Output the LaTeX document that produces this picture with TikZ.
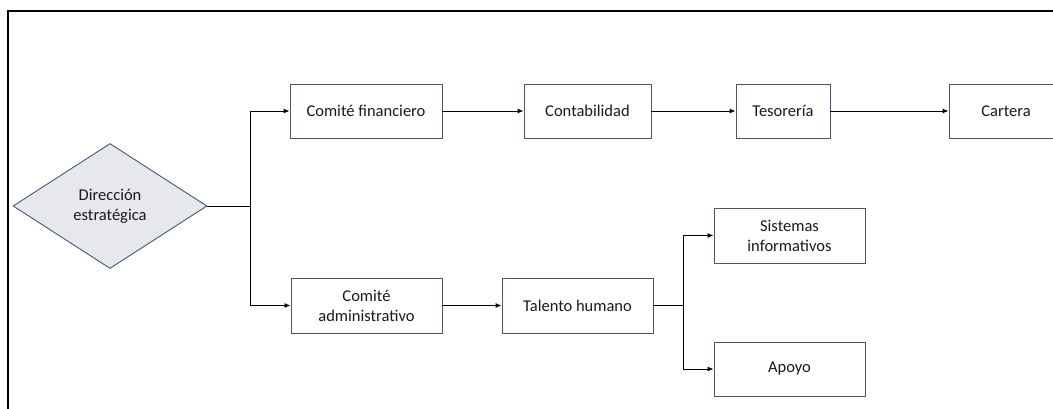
\documentclass[tikz,border=0pt]{standalone}
\usepackage{fontspec}
\setmainfont{Carlito}
\usetikzlibrary{shapes.geometric,arrows.meta}
\definecolor{boxline}{HTML}{4A5670}
\definecolor{diafill}{HTML}{E6E8EE}
\definecolor{txt}{HTML}{1A1A1A}
\begin{document}
\begin{tikzpicture}[x=1pt,y=-1pt,
  every node/.style={font=\fontsize{16.5}{20}\selectfont, text=txt, align=center},
  unit/.style={draw=boxline, line width=0.9pt, fill=white, rectangle, inner sep=0pt, minimum height=54pt},
  decision/.style={draw=boxline, line width=0.9pt, fill=diafill, diamond, aspect=1.55, inner sep=0pt,
    minimum width=194pt, minimum height=125pt},
  link/.style={draw=black, line width=1pt},
  arr/.style={link, -{Latex[length=6pt,width=5pt]}}]
  \useasboundingbox (0,0) rectangle (1053,408);
  \clip (0,0) rectangle (1053,408);
  % outer frame (open towards right and bottom)
  \draw[line width=2pt, black] (7.5,420) -- (7.5,10.5) -- (1070,10.5);

  % nodes
  \node[decision] (dir) at (110,206) {Dirección\\estratégica};
  \node[unit, minimum width=152pt] (cf)   at (366,111) {Comité financiero};
  \node[unit, minimum width=127pt] (cont) at (587.5,111) {Contabilidad};
  \node[unit, minimum width=94pt]  (tes)  at (783,111) {Tesorería};
  \node[unit, minimum width=114pt] (cart) at (1006,111) {Cartera};
  \node[unit, minimum width=151pt, minimum height=55pt] (ca) at (366.5,305.5) {Comité\\administrativo};
  \node[unit, minimum width=151pt, minimum height=55pt] (th) at (577.5,305.5) {Talento humano};
  \node[unit, minimum width=151pt, minimum height=55pt] (si) at (789.5,235.5) {Sistemas\\informativos};
  \node[unit, minimum width=151pt] (ap) at (789.5,369) {Apoyo};

  % branching points
  \coordinate (j1) at (250,206);
  \coordinate (j2) at (683,305.5);

  % connectors
  \draw[link] (dir.east) -- (j1);
  \draw[arr] (j1) |- (cf);
  \draw[arr] (j1) |- (ca);
  \draw[arr] (cf) -- (cont);
  \draw[arr] (cont) -- (tes);
  \draw[arr] (tes) -- (cart);
  \draw[arr] (ca) -- (th);
  \draw[link] (th.east) -- (j2);
  \draw[arr] (j2) |- (si);
  \draw[arr] (j2) |- (ap);
\end{tikzpicture}
\end{document}
